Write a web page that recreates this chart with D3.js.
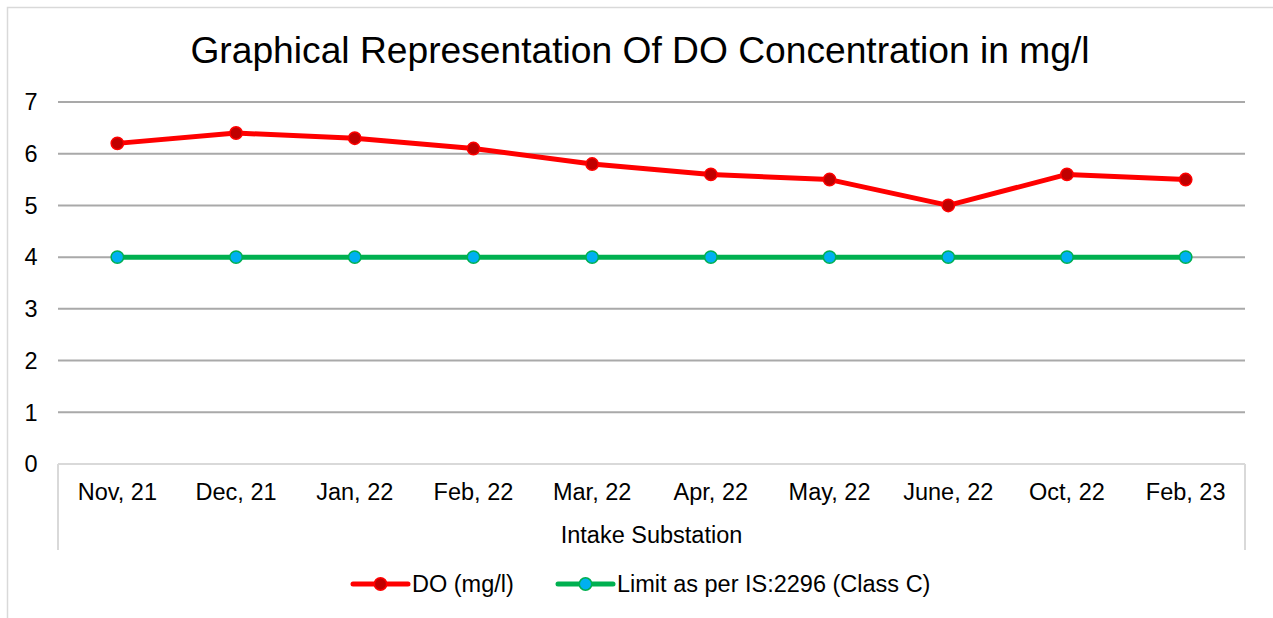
<!DOCTYPE html>
<html><head><meta charset="utf-8">
<script src="https://cdn.jsdelivr.net/npm/d3@7"></script>
<style>body{margin:0;background:#fff;}svg{display:block;font-family:"Liberation Sans",Arial,sans-serif;}</style>
</head><body>
<script>
const categories = ["Nov, 21","Dec, 21","Jan, 22","Feb, 22","Mar, 22","Apr, 22","May, 22","June, 22","Oct, 22","Feb, 23"];
const doValues = [6.2,6.4,6.3,6.1,5.8,5.6,5.5,5.0,5.6,5.5];
const limitValues = [4,4,4,4,4,4,4,4,4,4];
const yTicks = [0,1,2,3,4,5,6,7];
const seriesNames = ["DO (mg/l)","Limit as per IS:2296 (Class C)"];
const titleText = "Graphical Representation Of DO Concentration in mg/l";
const axisTitle = "Intake Substation";

const W=1273,H=618;
const svg=d3.select("body").append("svg").attr("width",W).attr("height",H);
svg.append("rect").attr("x",7.5).attr("y",7.5).attr("width",1300).attr("height",700).attr("fill","#fff").attr("stroke","#d9d9d9").attr("stroke-width",1.5);

const L=58,R=1245,T=102,B=464;
const FS=23.5;
const x=d3.scaleBand().domain(categories).range([L,R]);
const y=d3.scaleLinear().domain([0,7]).range([B,T]);

svg.append("text").attr("x",640).attr("y",63).attr("text-anchor","middle").attr("font-size",37.2).attr("fill","#000").text(titleText);

// gridlines
svg.append("g").selectAll("line").data(yTicks.filter(d=>d>0)).join("line")
  .attr("x1",L).attr("x2",R).attr("y1",d=>y(d)).attr("y2",d=>y(d))
  .attr("stroke","#a9a9a9").attr("stroke-width",2);
// y labels
svg.append("g").selectAll("text").data(yTicks).join("text")
  .attr("x",37.5).attr("y",d=>y(d)).attr("dy","0.35em").attr("text-anchor","end")
  .attr("font-size",FS).attr("fill","#000").text(d=>d);

// category axis box
const ax=svg.append("g").attr("stroke","#d9d9d9").attr("stroke-width",2).attr("fill","none");
ax.append("line").attr("x1",L).attr("x2",R).attr("y1",B).attr("y2",B);
ax.append("line").attr("x1",L).attr("x2",L).attr("y1",B).attr("y2",550);
ax.append("line").attr("x1",R).attr("x2",R).attr("y1",B).attr("y2",550);

svg.append("g").selectAll("text").data(categories).join("text")
  .attr("x",d=>x(d)+x.bandwidth()/2).attr("y",500).attr("text-anchor","middle")
  .attr("font-size",FS).attr("fill","#000").text(d=>d);
svg.append("text").attr("x",(L+R)/2).attr("y",543).attr("text-anchor","middle").attr("font-size",FS).attr("fill","#000").text(axisTitle);

const line=d3.line().x((d,i)=>x(categories[i])+x.bandwidth()/2).y(d=>y(d));
function series(vals,lc,mf){
  svg.append("path").datum(vals).attr("d",line).attr("fill","none").attr("stroke",lc).attr("stroke-width",5).attr("stroke-linejoin","round").attr("stroke-linecap","round");
  svg.append("g").selectAll("circle").data(vals).join("circle")
    .attr("cx",(d,i)=>x(categories[i])+x.bandwidth()/2).attr("cy",d=>y(d)).attr("r",6.2)
    .attr("fill",mf).attr("stroke",lc).attr("stroke-width",1.5);
}
series(limitValues,"#00b050","#00b0f0");
series(doValues,"#ff0000","#c00000");

// legend
const leg=[{name:seriesNames[0],lc:"#ff0000",mf:"#c00000",x:353},{name:seriesNames[1],lc:"#00b050",mf:"#00b0f0",x:558}];
const lg=svg.append("g");
leg.forEach(s=>{
  lg.append("line").attr("x1",s.x).attr("x2",s.x+55).attr("y1",584).attr("y2",584).attr("stroke",s.lc).attr("stroke-width",5).attr("stroke-linecap","round");
  lg.append("circle").attr("cx",s.x+27.5).attr("cy",584).attr("r",6.2).attr("fill",s.mf).attr("stroke",s.lc).attr("stroke-width",1.5);
  lg.append("text").attr("x",s.x+59).attr("y",592).attr("font-size",FS).attr("fill","#000").text(s.name);
});
</script>
</body></html>
